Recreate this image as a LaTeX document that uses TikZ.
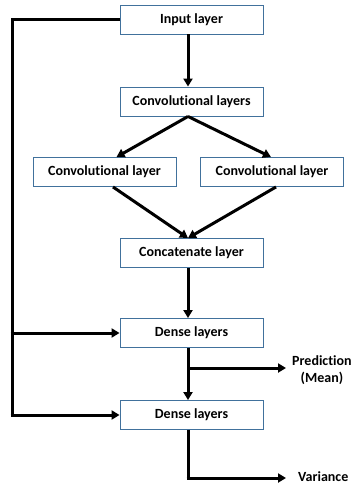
\documentclass[tikz,border=0pt]{standalone}
\usepackage{fontspec}
\setmainfont{Carlito}[Ligatures={NoCommon}]
\usetikzlibrary{arrows.meta,calc}
\definecolor{boxblue}{HTML}{41719C}
\begin{document}
\begin{tikzpicture}[x=1pt,y=-1pt,
  box/.style={draw=boxblue,line width=0.9pt,fill=white,minimum width=143pt,minimum height=29pt,inner sep=0pt,font=\bfseries\fontsize{14}{16}\selectfont},
  arr/.style={line width=3pt,-{Triangle[length=8pt,width=9pt]}},
  ln/.style={line width=3pt},
  lab/.style={font=\bfseries\fontsize{14}{17}\selectfont,align=center}]
\useasboundingbox (0,0) rectangle (353,485);
\node[box] (in) at (191.5,19.5) {Input layer};
\node[box] (cs) at (191.5,101.5) {Convolutional layers};
\node[box] (cl) at (104.5,172) {Convolutional layer};
\node[box] (cr) at (272,172) {Convolutional layer};
\node[box] (cc) at (191.5,253) {Concatenate layer};
\node[box] (d1) at (191.5,333) {Dense layers};
\node[box] (d2) at (191.5,415) {Dense layers};
\coordinate (ax) at (188,0);
\coordinate (c0) at (12,19.5);
\coordinate (j1) at (12,333);
\coordinate (j2) at (12,415);
\coordinate (b1) at (188,368);
\coordinate (p1) at (286,368);
\coordinate (b2) at (188,478);
\coordinate (p2) at (286,478);
\node[lab,anchor=west,inner sep=0pt] (pred) at (292,370) {Prediction\\(Mean)};
\node[lab,anchor=west,inner sep=0pt] (var) at (298,476.5) {Variance};
% main column
\draw[arr] (in.south -| ax) -- (cs.north -| ax);
\draw[arr] (cs.south -| ax) -- ($(cl.north)+(12,0)$);
\draw[arr] (cs.south -| ax) -- ($(cr.north)+(-1,0)$);
\draw[arr] ($(cl.south)+(8.5,0)$) -- (cc.north -| ax);
\draw[arr] ($(cr.south)+(4,0)$) -- (cc.north -| ax);
\draw[arr] (cc.south -| ax) -- (d1.north -| ax);
\draw[arr] (d1.south -| ax) -- (d2.north -| ax);
\draw[arr] (b1) -- (p1);
\draw[ln] (d2.south -| ax) -- (b2);
\draw[arr] ([xshift=-1.5pt]b2) -- (p2);
% skip connections
\draw[ln] (in.west) -- (c0) -- ([yshift=1.5pt]j2);
\draw[arr] ([xshift=-1.5pt]j1) -- (d1.west);
\draw[arr] ([xshift=-1.5pt]j2) -- (d2.west);
\end{tikzpicture}
\end{document}
